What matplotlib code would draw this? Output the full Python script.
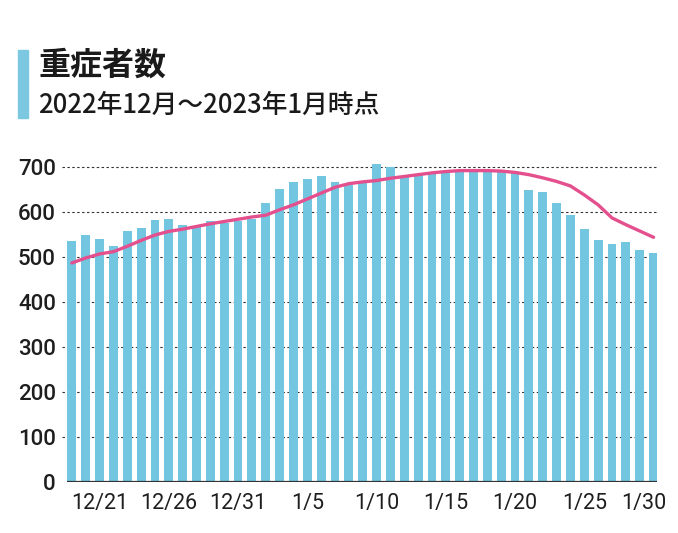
import matplotlib
matplotlib.use("Agg")
import matplotlib.pyplot as plt
from matplotlib.patches import Rectangle
from matplotlib.transforms import ScaledTranslation
import numpy as np

plt.rcParams['font.family'] = ['Noto Sans CJK JP', 'DejaVu Sans']

dates = ["12/19", "12/20", "12/21", "12/22", "12/23", "12/24", "12/25", "12/26", "12/27", "12/28",
         "12/29", "12/30", "12/31", "1/1", "1/2", "1/3", "1/4", "1/5", "1/6", "1/7",
         "1/8", "1/9", "1/10", "1/11", "1/12", "1/13", "1/14", "1/15", "1/16", "1/17",
         "1/18", "1/19", "1/20", "1/21", "1/22", "1/23", "1/24", "1/25", "1/26", "1/27",
         "1/28", "1/29", "1/30"]
severe = [535, 548, 541, 525, 559, 565, 583, 584, 571, 567,
          581, 575, 580, 584, 620, 651, 666, 673, 679, 667,
          661, 664, 706, 701, 680, 683, 685, 689, 690, 692,
          692, 691, 688, 650, 644, 620, 593, 563, 537, 528,
          534, 515, 510]
avg7 = [487, 498, 507, 512, 524, 537, 549, 557, 562, 568,
        574, 579, 584, 589, 593, 605, 616, 629, 642, 655,
        663, 667, 670, 675, 679, 683, 687, 690, 692, 692,
        692, 691, 688, 683, 676, 668, 658, 638, 616, 587,
        572, 558, 544]
tick_labels = ["12/21", "12/26", "12/31", "1/5", "1/10", "1/15", "1/20", "1/25", "1/30"]
yticks = [0, 100, 200, 300, 400, 500, 600, 700]

title = "重症者数"
subtitle = "2022年12月～2023年1月時点"

W, H = 678, 533
fig = plt.figure(figsize=(W / 100, H / 100), dpi=100)
fig.patch.set_facecolor("white")

left, right, top_px, bottom_px = 67, 657, 149, 482.3
ax = fig.add_axes([left / W, (H - bottom_px) / H, (right - left) / W, (bottom_px - top_px) / H])

x = np.arange(len(dates))
ax.bar(x, severe, width=0.64, color="#72c6e0", zorder=2)
ax.plot(x, avg7, color="#e4508e", linewidth=2.4, zorder=3, solid_capstyle="round")

ax.set_ylim(0, 740)
ax.set_xlim(-0.35, len(dates) - 0.75)

for v in yticks[1:]:
    ax.axhline(v, xmin=-0.008, color="#333333", linewidth=0.8, linestyle=(0, (2.2, 2.2)),
               zorder=1, clip_on=False)
ax.axhline(0, color="#333333", linewidth=1.6, zorder=4)

ax.set_yticks(yticks)
ax.set_yticklabels([str(v) for v in yticks], family=["Roboto", "DejaVu Sans"], fontsize=16,
                   fontweight="medium", color="#1e1e1e")
ax.set_xticks([dates.index(d) for d in tick_labels])
ax.set_xticklabels(tick_labels, family=["Roboto", "DejaVu Sans"], fontsize=15.5, color="#1e1e1e")
ax.tick_params(axis="both", length=0)
ax.tick_params(axis="y", pad=8)
ax.tick_params(axis="x", pad=8)
for s in ax.spines.values():
    s.set_visible(False)
# keep the last date label inside the figure like the reference
last = ax.get_xticklabels()[-1]
last.set_transform(last.get_transform() + ScaledTranslation(-10 / 100, 0, fig.dpi_scale_trans))

fig.patches.append(Rectangle((18 / W, (H - 118) / H), 10 / W, 68 / H, transform=fig.transFigure,
                             color="#7cc8e0", zorder=5))
fig.text(38 / W, 1 - 66 / H, title, fontsize=23, fontweight="bold", va="center", ha="left", color="#1a1a1a")
fig.text(38 / W, 1 - 105 / H, subtitle, fontsize=18.5, fontweight="medium", va="center", ha="left",
         color="#1a1a1a")

fig.savefig("out.png", dpi=100, facecolor="white")
